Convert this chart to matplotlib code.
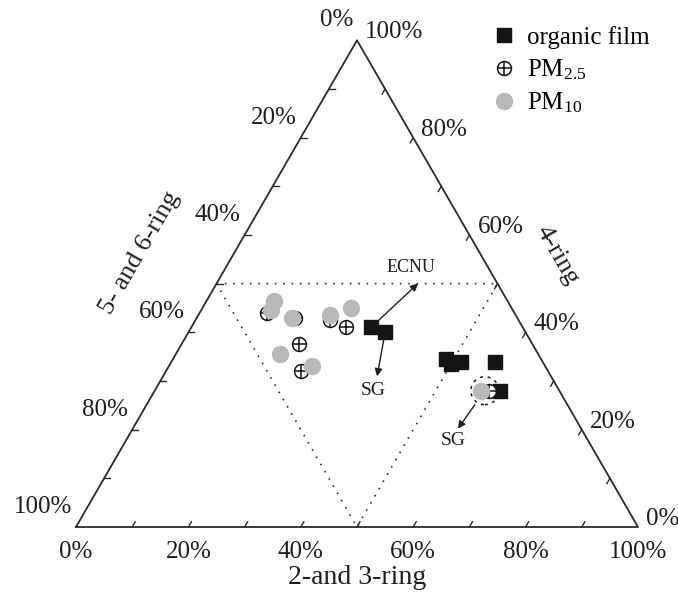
import numpy as np
import matplotlib
matplotlib.use("Agg")
import matplotlib.pyplot as plt
from matplotlib.patches import Circle
from matplotlib.legend_handler import HandlerTuple

plt.rcParams['font.family'] = ['Liberation Serif', 'DejaVu Serif']
plt.rcParams['mathtext.fontset'] = 'stix'

# composition in % : 2-and 3-ring / 4-ring / 5- and 6-ring
film_23 = [32, 35, 48.5, 50, 51.5, 57.5, 61.5]
film_4 = [41, 40, 34.5, 33.5, 34, 34, 28]
film_56 = [27, 25, 17, 16.5, 14.5, 8.5, 10.5]

pm25_23 = [12, 17.5, 24, 27.5, 21, 24, 59.5]
pm25_4 = [44, 43, 42.5, 41, 37.5, 32, 28]
pm25_56 = [44, 39.5, 33.5, 31.5, 41.5, 44, 12.5]

pm10_23 = [12, 12.5, 17, 23.5, 26.5, 18.5, 25.5, 58]
pm10_4 = [46.5, 44.5, 43, 43.5, 45, 35.5, 33, 28]
pm10_56 = [41.5, 43, 40, 33, 28.5, 46, 41.5, 14]

tick_vals = [0, 20, 40, 60, 80, 100]

H = np.sqrt(3) / 2
S = 562.0  # pixels per unit side


def tern(a, c, b):
    a, b, c = np.asarray(a, float), np.asarray(b, float), np.asarray(c, float)
    tot = a + b + c
    a, c = a / tot, c / tot
    return a + c / 2, c * H


def px(d):
    return d / S


fig = plt.figure(figsize=(6.78, 5.94), dpi=100)
ax = fig.add_axes([0, 0, 1, 1])
ax.set_xlim(-76 / S, (678 - 76) / S)
ax.set_ylim(-67 / S, 527 / S)
ax.axis('off')

edge = '#2b2b2b'
ax.plot([0, 1, 0.5, 0], [0, 0, H, 0], color=edge, lw=1.3, zorder=2)

# dotted inner triangle through the edge midpoints
ax.plot([0.25, 0.75, 0.5, 0.25], [H / 2, H / 2, 0, H / 2], color='#333333',
        lw=1.2, linestyle=(0, (1, 4)), zorder=1)

# ticks every 10 %
L = px(6)
for t in np.arange(0.1, 1.0, 0.1):
    ax.plot([t, t + 0.5 * L], [0, H * L], color=edge, lw=1)
    xl, yl = 0.5 * (1 - t), H * (1 - t)
    ax.plot([xl, xl + L], [yl, yl], color=edge, lw=1)
    xr, yr = 1 - 0.5 * t, H * t
    ax.plot([xr, xr - 0.5 * L], [yr, yr - H * L], color=edge, lw=1)

fs = 18
tc = '#1e1e1e'
for v in tick_vals:
    t = v / 100
    ax.text(t, px(-25), f'{v}%', ha='center', va='center', fontsize=fs, color=tc)
    xl, yl = 0.5 * (1 - t), H * (1 - t)
    ax.text(xl - px(4), yl + px(20), f'{v}%', ha='right', va='center', fontsize=fs, color=tc)
    xr, yr = 1 - 0.5 * t, H * t
    ax.text(xr + px(8), yr + px(8), f'{v}%', ha='left', va='center', fontsize=fs, color=tc)

ax.text(0.5, px(-50), '2-and 3-ring', ha='center', va='center', fontsize=20, color=tc)
ax.text(0.114, 0.4875, '5- and 6-ring', ha='center', va='center', rotation=60,
        fontsize=19, color=tc)
ax.text(0.856, 0.484, '4-ring', ha='center', va='center', rotation=-60,
        fontsize=19, color=tc)

# data
fx, fy = tern(film_23, film_4, film_56)
p25x, p25y = tern(pm25_23, pm25_4, pm25_56)
p10x, p10y = tern(pm10_23, pm10_4, pm10_56)

gray = '#b9b9b9'
h_film, = ax.plot(fx, fy, 's', ms=10.5, color='#141414', zorder=3)
h_o, = ax.plot(p25x, p25y, 'o', ms=10, mfc='white', mec='#141414', mew=1.1, zorder=4)
h_p, = ax.plot(p25x, p25y, '+', ms=10, mec='#141414', mew=1.1, zorder=4)
h_10, = ax.plot(p10x, p10y, 'o', ms=11.5, color=gray, mec=gray, zorder=5)

# dashed circle around the overlapping points at the right
cx = (p25x[-1] + p10x[-1]) / 2
cy = (p25y[-1] + p10y[-1]) / 2
ax.add_patch(Circle((cx, cy), px(14), fill=False, ls=(0, (2, 3)), lw=1.1,
                    ec='#1e1e1e', zorder=6))

ap = dict(arrowstyle='-|>', lw=1, color='#1e1e1e', mutation_scale=11,
          shrinkA=4, shrinkB=0)
ax.annotate('', xy=(fx[0] + px(47), fy[0] + px(44)), xytext=(fx[0], fy[0]),
            arrowprops=ap, zorder=7)
ax.text(fx[0] + px(40), fy[0] + px(60), 'ECNU', ha='center', va='center',
        fontsize=13, color=tc)
ax.annotate('', xy=(fx[1] - px(8), fy[1] - px(44)), xytext=(fx[1], fy[1]),
            arrowprops=ap, zorder=7)
ax.text(fx[1] - px(12), fy[1] - px(58), 'SG', ha='center', va='center',
        fontsize=14, color=tc)
ax.annotate('', xy=(cx - px(27), cy - px(38)), xytext=(cx - px(10), cy - px(14)),
            arrowprops=dict(ap, shrinkA=0), zorder=7)
ax.text(cx - px(32), cy - px(50), 'SG', ha='center', va='center',
        fontsize=14, color=tc)

ax.legend([h_film, (h_o, h_p), h_10],
          ['organic film', r'PM$_\mathregular{2.5}$', r'PM$_\mathregular{10}$'],
          handler_map={tuple: HandlerTuple(ndivide=1)},
          loc='upper left', bbox_to_anchor=(491 / 678, 1 - 26 / 594),
          frameon=False, fontsize=fs, handlelength=1, handletextpad=0.45,
          labelspacing=0.35, borderpad=0, borderaxespad=0)

fig.savefig('out.png', dpi=100)
